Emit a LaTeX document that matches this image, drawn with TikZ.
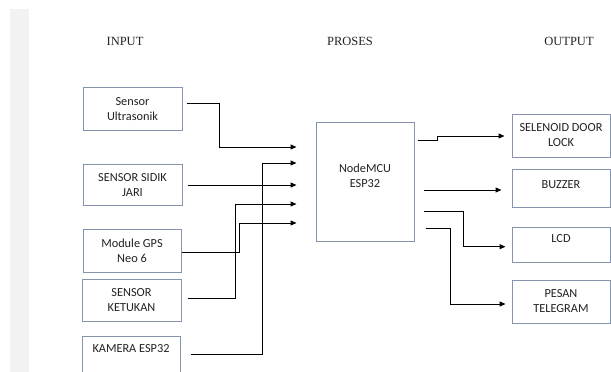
\documentclass[tikz,border=0pt]{standalone}
\usepackage{fontspec}
\setmainfont{Liberation Serif}
\newfontfamily\boxfont{Carlito}
\usepackage{tikz}
\usetikzlibrary{arrows.meta,positioning}
\definecolor{edge}{HTML}{8595AD}
\definecolor{strip}{HTML}{F2F2F2}
\definecolor{ink}{HTML}{222222}
\newcommand{\lift}[2]{\raisebox{#1}[\height][\depth]{#2}}

\begin{document}
\begin{tikzpicture}[x=1pt,y=1pt,
box/.style={draw=edge,line width=1pt,fill=white,align=center,minimum width=99pt,inner sep=0pt,font=\boxfont\fontsize{12.3}{15}\selectfont,text=ink},
head/.style={font=\fontsize{12.5}{14}\selectfont,text=ink},
arr/.style={-{Triangle[length=6pt,width=5pt]},line width=1pt}
]
\useasboundingbox (0,0) rectangle (611,-372);
\fill[strip] (10,-9) rectangle (29,-372);

% column titles
\node[head] (hin) at (125,-41) {INPUT};
\node[head] (hpro) at (350,-41) {PROSES};
\node[head] (hout) at (569,-41) {OUTPUT};

% inputs
\node[box,minimum height=43pt] (ultra) at (132.5,-109) {Sensor\\Ultrasonik};
\node[box,minimum height=41pt] (sidik) at (132.5,-185) {SENSOR SIDIK\\JARI};
\node[box,minimum height=43pt,minimum width=98pt] (gps) at (132,-250.5) {Module GPS\\Neo 6};
\node[box,minimum height=42pt] (ketuk) at (131.5,-300) {SENSOR\\KETUKAN};
\node[box,minimum height=42pt,minimum width=98pt] (kamera) at (131,-357) {\lift{8pt}{KAMERA ESP32}};

% process
\node[box,minimum width=98pt,minimum height=119pt] (mcu) at (365,-181.5) {\lift{5pt}{\begin{tabular}{@{}c@{}}NodeMCU\\ESP32\end{tabular}}};

% outputs
\node[box,minimum height=43pt,minimum width=98pt] (selenoid) at (561,-135.5) {SELENOID DOOR\\LOCK};
\node[box,minimum height=38pt,minimum width=98pt] (buzzer) at (561,-188) {\lift{3pt}{BUZZER}};
\node[box,minimum height=35pt,minimum width=98pt] (lcd) at (561,-244.5) {\lift{6pt}{LCD}};
\node[box,minimum height=43pt,minimum width=98pt] (pesan) at (561,-301.5) {PESAN\\TELEGRAM};

% wires in
\draw[arr] ([shift={(4,6)}]ultra.east) -- ++(33,0) |- ([shift={(-19,34.5)}]mcu.west);
\draw[arr] ([shift={(10,3)}]kamera.east) -- ++(72,0) |- ([shift={(-19,18.5)}]mcu.west);
\draw[arr] ([xshift=5pt]sidik.east) -- ([shift={(-19,-3.5)}]mcu.west);
\draw[arr] ([shift={(6,2)}]ketuk.east) -- ++(48,0) |- ([shift={(-19,-22.5)}]mcu.west);
\draw[arr] ([shift={(0,-1.5)}]gps.east) -- ++(57.5,0) |- ([shift={(-19,-41.5)}]mcu.west);

% wires out
\draw[arr] ([shift={(3,41.5)}]mcu.east) -- ++(20,0) |- ([shift={(-7,-0.5)}]selenoid.west);
\draw[arr] ([shift={(9,-8.5)}]mcu.east) -- ([shift={(-10,-2)}]buzzer.west);
\draw[arr] ([shift={(9,-30.2)}]mcu.east) -- ++(40,0) |- ([shift={(-6,-2.2)}]lcd.west);
\draw[arr] ([shift={(11,-47.2)}]mcu.east) -- ++(25,0) |- ([shift={(-6,-2.5)}]pesan.west);
\end{tikzpicture}
\end{document}
